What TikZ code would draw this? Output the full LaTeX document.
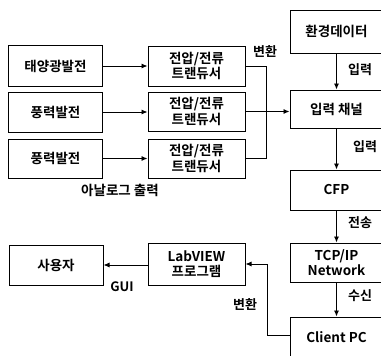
\documentclass[tikz,border=0pt]{standalone}
\usepackage{fontspec}
\setmainfont{Noto Sans CJK KR}[BoldFont={Noto Sans CJK KR Bold}]
\usetikzlibrary{arrows.meta}
\begin{document}
\begin{tikzpicture}[x=1pt,y=1pt,
  box/.style={draw=black,line width=1pt,minimum width=94pt,minimum height=40pt,inner sep=1pt,align=center,font=\fontsize{13.5}{15.5}\selectfont\bfseries},
  tbox/.style={box,minimum width=97pt},
  conn/.style={draw=black,line width=0.9pt},
  arr/.style={conn,-{Latex[length=6pt,width=5pt]}},
  lbl/.style={font=\fontsize{13}{14}\selectfont\bfseries,inner sep=0pt}]
\useasboundingbox (0,0) rectangle (381,-356);
% left sources
\node[box,minimum height=41pt] (sun) at (55.5,-66) {태양광발전};
\node[box] (w1) at (55.5,-112) {풍력발전};
\node[box,minimum height=39pt] (w2) at (55.5,-158.5) {풍력발전};
% transducers
\node[tbox] (t1) at (196.5,-66) {전압/전류\\트랜듀서};
\node[tbox,minimum height=39pt] (t2) at (196.5,-111.5) {전압/전류\\트랜듀서};
\node[tbox,minimum height=39pt] (t3) at (196.5,-158.5) {전압/전류\\트랜듀서};
% right column
\node[box,minimum width=93pt,minimum height=43pt] (env) at (336.5,-31.5) {환경데이터};
\node[box,minimum width=93pt,minimum height=38pt] (ch) at (336.5,-109) {입력 채널};
\node[box,minimum width=93pt] (cfp) at (336.5,-190) {CFP};
\node[box,minimum width=93pt,minimum height=39pt] (tcp) at (336.5,-262.5) {TCP/IP\\Network};
\node[box,minimum width=93pt,minimum height=41pt] (pc) at (336.5,-337.5) {Client PC};
% bottom left
\node[tbox,minimum height=42pt] (lab) at (196.5,-264) {LabVIEW\\프로그램};
\node[box] (user) at (56,-265) {사용자};
% coordinates
\coordinate (b1) at (266,-66);
\coordinate (b3) at (266,-158.5);
\coordinate (c1) at (267,-335);
\coordinate (c2) at (267,-264);
% connectors
\draw[arr] (sun.east) -- (t1.west);
\draw[arr] (w1.east) -- (t2.west |- w1.east);
\draw[arr] (w2.east) -- (t3.west |- w2.east);
\draw[conn] (t1.east) -- (b1) -- (b3) -- (t3.east);
\draw[arr] (t2.east) -- (ch.west |- t2.east);
\draw[arr] (env.south) -- (ch.north);
\draw[arr] (ch.south) -- (cfp.north);
\draw[arr] (cfp.south) -- (tcp.north);
\draw[arr] (tcp.south) -- (pc.north);
\draw[conn] (pc.west |- c1) -- (c1) -- (c2);
\draw[arr] (c2) -- (lab.east |- c2);
\draw[arr] (lab.west |- user.east) -- (user.east);
% labels
\node[lbl] (l1) at (265,-52) {변환};
\node[lbl] (l2) at (360,-70) {입력};
\node[lbl] (l3) at (365,-147) {입력};
\node[lbl] (l4) at (360,-223) {전송};
\node[lbl] (l5) at (360,-296) {수신};
\node[lbl] (l6) at (245,-305) {변환};
\node[lbl] (l7) at (122,-287) {GUI};
\node[lbl,font=\fontsize{13.5}{15}\selectfont\bfseries] (l8) at (120,-190) {아날로그 출력};
\end{tikzpicture}
\end{document}
